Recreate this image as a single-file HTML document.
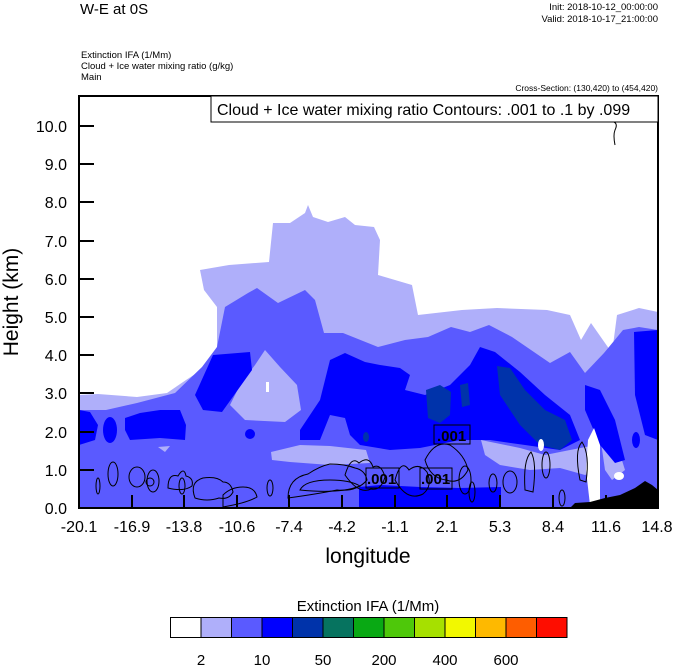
<!DOCTYPE html>
<html><head><meta charset="utf-8"><style>
html,body{margin:0;padding:0;background:#fff;}
svg{display:block;font-family:"Liberation Sans",sans-serif;}
</style></head><body>
<svg width="674" height="667" viewBox="0 0 674 667">
<rect width="674" height="667" fill="#fff"/>
<text x="80" y="14" font-size="15">W-E at 0S</text>
<text x="658" y="10" font-size="9.5" text-anchor="end">Init: 2018-10-12_00:00:00</text>
<text x="658" y="22" font-size="9.5" text-anchor="end">Valid: 2018-10-17_21:00:00</text>
<text x="81" y="58" font-size="9.5">Extinction IFA   (1/Mm)</text>
<text x="81" y="69" font-size="9.5">Cloud + Ice water mixing ratio   (g/kg)</text>
<text x="81" y="80" font-size="9.5">Main</text>
<text x="658" y="91" font-size="8.5" text-anchor="end">Cross-Section: (130,420) to (454,420)</text>
<defs><clipPath id="c"><rect x="79" y="96" width="579" height="412"/></clipPath></defs>
<g clip-path="url(#c)">
<!-- light -->
<polygon fill="#afaffa" points="79,395 98,394 137,397 167,393 186,380 206,367 217,347 217,307 204,290 200,270 229,265 269,262 273,223 290,223 305,213 308,205 313,217 328,222 345,217 355,225 374,227 380,240 378,275 412,285 418,315 462,310 497,308 547,310 570,315 581,340 591,323 612,353 617,315 639,308 658,312 658,508 79,508"/>
<!-- medium -->
<polygon fill="#5a5aff" points="79,410 106,410 137,403 175,393 202,367 217,347 225,307 248,293 257,288 278,303 305,290 315,300 324,333 343,333 378,347 405,340 428,337 451,327 470,332 489,325 512,337 531,350 550,363 570,352 585,373 604,353 623,330 639,327 658,330 658,508 79,508"/>
<polygon fill="#afaffa" points="265,350 280,367 297,385 301,410 285,422 245,420 230,405 240,385 255,365"/>
<polygon fill="#afaffa" points="271,452 300,445 330,446 366,450 370,463 330,465 290,462 272,460"/>
<polygon fill="#afaffa" points="481,440 520,448 545,455 570,450 596,445 600,470 585,475 560,468 530,470 500,465 485,455"/>
<polygon fill="#afaffa" points="600,435 615,438 625,470 612,480 605,470"/>
<polygon fill="#afaffa" points="158,447 170,446 165,452"/>
<!-- blue -->
<polygon fill="#0000ff" points="79,410 90,412 98,425 95,440 79,445"/>
<ellipse cx="110" cy="430" rx="7" ry="13" fill="#0000ff"/>
<polygon fill="#0000ff" points="125,418 140,413 160,410 180,410 186,425 185,440 160,438 130,440 125,430"/>
<polygon fill="#0000ff" points="213,355 250,352 252,370 222,412 203,410 195,395"/>
<polygon fill="#0000ff" points="300,430 320,400 330,360 345,353 365,362 380,365 400,368 410,375 405,390 425,395 450,385 470,365 480,347 495,352 520,372 545,395 570,415 580,440 560,450 525,445 490,440 460,440 420,448 390,450 360,445 350,435 345,418 330,415 320,440 300,440"/>
<polygon fill="#0000ff" points="359,487 380,485 420,487 460,488 501,487 501,508 359,508"/>
<polygon fill="#0000ff" points="585,385 600,390 615,420 625,460 615,463 600,445 585,410"/>
<polygon fill="#0000ff" points="634,332 658,330 658,440 645,435 635,395"/>
<ellipse cx="636" cy="440" rx="4" ry="8" fill="#0000ff"/>
<ellipse cx="250" cy="434" rx="5" ry="5" fill="#0000ff"/>
<!-- dark -->
<polygon fill="#0033aa" points="426,390 440,385 451,392 450,415 440,423 428,418"/>
<polygon fill="#0033aa" points="460,385 468,383 470,405 462,407"/>
<polygon fill="#0033aa" points="497,366 510,368 525,390 545,410 565,420 572,440 560,450 540,445 520,425 500,395"/>
<ellipse cx="366" cy="437" rx="3" ry="5" fill="#0033aa"/>
<!-- white -->
<polygon fill="#fff" points="588,440 594,428 600,445 600,505 590,505 586,470"/>
<rect x="266" y="382" width="3" height="10" fill="#fff"/>
<ellipse cx="541" cy="445" rx="3" ry="6" fill="#fff"/>
<ellipse cx="619" cy="476" rx="5" ry="4" fill="#fff"/>
<!-- terrain -->
<polygon fill="#000" points="570,508 575,503 590,502 605,498 620,495 635,488 645,481 652,485 658,490 658,508"/>
<!-- contours -->
<g fill="none" stroke="#000" stroke-width="1">
<path d="M614,122 q4,2 1,8 q-2,5 0,15"/>
<ellipse cx="113" cy="474" rx="5" ry="12"/><ellipse cx="98" cy="486" rx="2" ry="8"/>
<ellipse cx="137" cy="477" rx="8" ry="10"/><ellipse cx="150" cy="482" rx="4" ry="4"/>
<ellipse cx="153" cy="481" rx="6" ry="11"/>
<path d="M168,488 q0,-15 10,-12 q6,-10 8,0 q8,2 6,10 q-8,6 -24,2z"/>
<ellipse cx="182" cy="486" rx="3" ry="8"/>
<path d="M195,498 q-6,-16 8,-20 q14,-2 20,4 q8,0 10,10 q-4,8 -14,6 q-12,4 -24,0z"/>
<path d="M223,507 v-12 q8,-8 20,-8 q12,0 14,10 q-10,6 -34,10"/>
<ellipse cx="270" cy="488" rx="3" ry="8"/>
<path d="M288,498 q0,-20 20,-24 q12,-8 22,-10 q15,0 25,4 q10,2 12,12 q-10,12 -30,10 q-20,4 -49,8z"/>
<path d="M300,490 q5,-10 30,-10 q20,0 30,6 q-20,8 -60,4z"/>
<path d="M345,475 q6,-20 14,-12 q10,-8 14,4 q8,-4 12,10 q-4,14 -14,12 q-12,6 -26,-14z"/>
<path d="M395,480 q6,-22 14,-10 q10,-8 18,2 q6,14 -4,22 q-16,8 -28,-14z"/>
<path d="M425,460 q10,-20 25,-15 q15,10 18,25 q-8,15 -22,10 q-16,-2 -21,-20z"/>
<ellipse cx="465" cy="480" rx="6" ry="14"/><ellipse cx="472" cy="492" rx="3" ry="10"/>
<ellipse cx="493" cy="483" rx="4" ry="9"/><ellipse cx="510" cy="482" rx="7" ry="11"/>
<path d="M525,490 q-2,-30 6,-38 q6,10 2,40z"/>
<ellipse cx="546" cy="465" rx="4" ry="13"/><ellipse cx="562" cy="498" rx="3" ry="8"/>
<path d="M580,480 q-6,-30 2,-38 q8,12 4,40z"/>
</g>
<g font-size="15" font-weight="bold">
<rect x="434" y="425" width="36" height="19" fill="none" stroke="#000"/><text x="437" y="441">.001</text>
<rect x="366" y="468" width="33" height="20" fill="none" stroke="#000"/><text x="367" y="484">.001</text>
<rect x="420" y="468" width="32" height="21" fill="none" stroke="#000"/><text x="421" y="484">.001</text>
</g>
</g>
<rect x="79" y="96" width="579" height="412" fill="none" stroke="#000" stroke-width="2"/>
<rect x="211" y="96" width="447" height="26" fill="#fff" stroke="#000" stroke-width="1"/>
<text x="217" y="115" font-size="16">Cloud + Ice water mixing ratio Contours: .001 to .1 by .099</text>
<g stroke="#000" stroke-width="2">
<line x1="79" y1="508" x2="94" y2="508"/><line x1="79" y1="470" x2="94" y2="470"/><line x1="79" y1="432" x2="94" y2="432"/><line x1="79" y1="393" x2="94" y2="393"/><line x1="79" y1="355" x2="94" y2="355"/><line x1="79" y1="317" x2="94" y2="317"/><line x1="79" y1="279" x2="94" y2="279"/><line x1="79" y1="241" x2="94" y2="241"/><line x1="79" y1="202" x2="94" y2="202"/><line x1="79" y1="164" x2="94" y2="164"/><line x1="79" y1="126" x2="94" y2="126"/>
<line x1="132" y1="508" x2="132" y2="495"/><line x1="184" y1="508" x2="184" y2="495"/><line x1="237" y1="508" x2="237" y2="495"/><line x1="289" y1="508" x2="289" y2="495"/><line x1="342" y1="508" x2="342" y2="495"/><line x1="395" y1="508" x2="395" y2="495"/><line x1="447" y1="508" x2="447" y2="495"/><line x1="500" y1="508" x2="500" y2="495"/><line x1="553" y1="508" x2="553" y2="495"/><line x1="606" y1="508" x2="606" y2="495"/>
</g>
<g font-size="16" text-anchor="end">
<text x="67" y="514">0.0</text><text x="67" y="476">1.0</text><text x="67" y="438">2.0</text><text x="67" y="399">3.0</text><text x="67" y="361">4.0</text><text x="67" y="323">5.0</text><text x="67" y="285">6.0</text><text x="67" y="247">7.0</text><text x="67" y="208">8.0</text><text x="67" y="170">9.0</text><text x="67" y="132">10.0</text>
</g>
<g font-size="16" text-anchor="middle">
<text x="79" y="532">-20.1</text><text x="132" y="532">-16.9</text><text x="184" y="532">-13.8</text><text x="237" y="532">-10.6</text><text x="289" y="532">-7.4</text><text x="342" y="532">-4.2</text><text x="395" y="532">-1.1</text><text x="447" y="532">2.1</text><text x="500" y="532">5.3</text><text x="553" y="532">8.4</text><text x="606" y="532">11.6</text><text x="657" y="532">14.8</text>
</g>
<text x="368" y="563" font-size="21" text-anchor="middle">longitude</text>
<text transform="translate(18,302) rotate(-90)" font-size="21" text-anchor="middle">Height (km)</text>
<text x="368" y="611" font-size="15" text-anchor="middle">Extinction IFA  (1/Mm)</text>
<g stroke="#000" stroke-width="1">
<rect x="170.5" y="617.5" width="30.5" height="20" fill="#fff"/>
<rect x="201" y="617.5" width="30.5" height="20" fill="#afaffa"/>
<rect x="231.5" y="617.5" width="30.5" height="20" fill="#5a5aff"/>
<rect x="262" y="617.5" width="30.5" height="20" fill="#0000ff"/>
<rect x="292.5" y="617.5" width="30.5" height="20" fill="#0033aa"/>
<rect x="323" y="617.5" width="30.5" height="20" fill="#06735f"/>
<rect x="353.5" y="617.5" width="30.5" height="20" fill="#09a914"/>
<rect x="384" y="617.5" width="30.5" height="20" fill="#4ec80a"/>
<rect x="414.5" y="617.5" width="30.5" height="20" fill="#a6e000"/>
<rect x="445" y="617.5" width="30.5" height="20" fill="#f2f800"/>
<rect x="475.5" y="617.5" width="30.5" height="20" fill="#feb900"/>
<rect x="506" y="617.5" width="30.5" height="20" fill="#fe5d00"/>
<rect x="536.5" y="617.5" width="30.5" height="20" fill="#fe0d00"/>
</g>
<g font-size="15" text-anchor="middle">
<text x="201" y="665">2</text><text x="262" y="665">10</text><text x="323" y="665">50</text><text x="384" y="665">200</text><text x="445" y="665">400</text><text x="506" y="665">600</text>
</g>
</svg>
</body></html>
